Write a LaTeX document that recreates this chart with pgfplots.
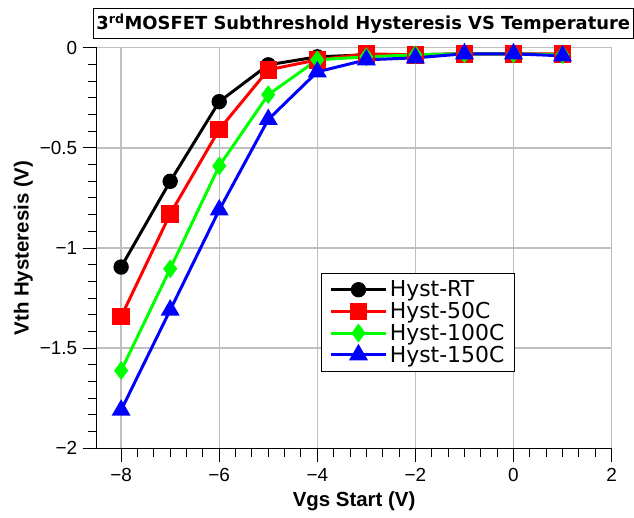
\documentclass[border=0pt]{standalone}
\usepackage{fontspec}
\setmainfont{Liberation Sans}
\newfontfamily\verd{DejaVu Sans}
\usepackage{pgfplots}
\pgfplotsset{compat=1.18}
\usetikzlibrary{calc}

\begin{document}
\begin{tikzpicture}[x=1pt,y=1pt]
\begin{axis}[
    name=ax,
    scale only axis,
    width=517pt,height=402pt,
    xmin=-8.5,xmax=2,
    ymin=-2,ymax=0,
    axis lines*=left,
    xtick={-8,-6,-4,-2,0,2},
    xticklabels={−8,−6,−4,−2,0,2},
    ytick={-2,-1.5,-1,-0.5,0},
    yticklabels={−2,−1.5,−1,−0.5,0},
    minor x tick num=5,
    minor y tick num=5,
    xtick pos=left, ytick pos=left,
    xtick align=outside, ytick align=outside,
    grid=major,
    major grid style={gray!50,line width=1.3pt},
    axis line style={-,line width=1pt},
    major tick style={black,line width=1pt},
    minor tick style={black,line width=1pt},
    major tick length=14pt,
    minor tick length=9pt,
    ticklabel style={font=\fontsize{19}{19}\selectfont},
    xticklabel shift=3pt,
    yticklabel shift=2pt,
    xlabel={\bfseries Vgs Start (V)},
    ylabel={\bfseries Vth Hysteresis (V)},
    label style={font=\fontsize{20.5}{20.5}\selectfont},
    xlabel style={yshift=-3pt},
    ylabel style={yshift=0pt},
    legend style={at={(0.435,0.19)},anchor=south west,
        draw=black,line width=1pt,
        font=\verd\fontsize{22}{26}\selectfont,
        inner xsep=8pt,inner ysep=6pt,row sep=0pt},
    legend cell align=left,
    legend image code/.code={
        \draw[mark repeat=2,mark phase=2,line width=3pt]
        plot coordinates {(0pt,0pt) (28pt,0pt) (56pt,0pt)};},
    every axis plot/.append style={line width=3pt},
    clip=false,
]
\addplot[black,mark=*,mark size=6.2pt] coordinates {
(-8,-1.095) (-7,-0.667) (-6,-0.269) (-5,-0.085) (-4,-0.045)
(-3,-0.035) (-2,-0.035) (-1,-0.030) (0,-0.030) (1,-0.035)};
\addlegendentry{Hyst-RT}
\addplot[red,mark=square*,mark size=7.3pt] coordinates {
(-8,-1.343) (-7,-0.830) (-6,-0.408) (-5,-0.110) (-4,-0.060)
(-3,-0.030) (-2,-0.035) (-1,-0.030) (0,-0.030) (1,-0.030)};
\addlegendentry{Hyst-50C}
\addplot[green,mark=diamond*,mark size=7pt] coordinates {
(-8,-1.612) (-7,-1.104) (-6,-0.590) (-5,-0.234) (-4,-0.060)
(-3,-0.045) (-2,-0.035) (-1,-0.030) (0,-0.030) (1,-0.035)};
\addlegendentry{Hyst-100C}
\addplot[blue,mark=triangle*,mark size=8pt] coordinates {
(-8,-1.810) (-7,-1.310) (-6,-0.810) (-5,-0.358) (-4,-0.120)
(-3,-0.060) (-2,-0.050) (-1,-0.030) (0,-0.030) (1,-0.040)};
\addlegendentry{Hyst-150C}
\end{axis}
\node[draw=black,line width=1pt,minimum width=535pt,minimum height=30pt,
      font=\verd\bfseries\fontsize{18}{18}\selectfont,anchor=north west]
  at ($(ax.south west)+(-4pt,442pt)$) {3\textsuperscript{rd}MOSFET Subthreshold Hysteresis VS Temperature};
\path[use as bounding box] ($(ax.south west)+(-97pt,-70pt)$) rectangle ($(ax.south west)+(537pt,450pt)$);
\end{tikzpicture}
\end{document}
